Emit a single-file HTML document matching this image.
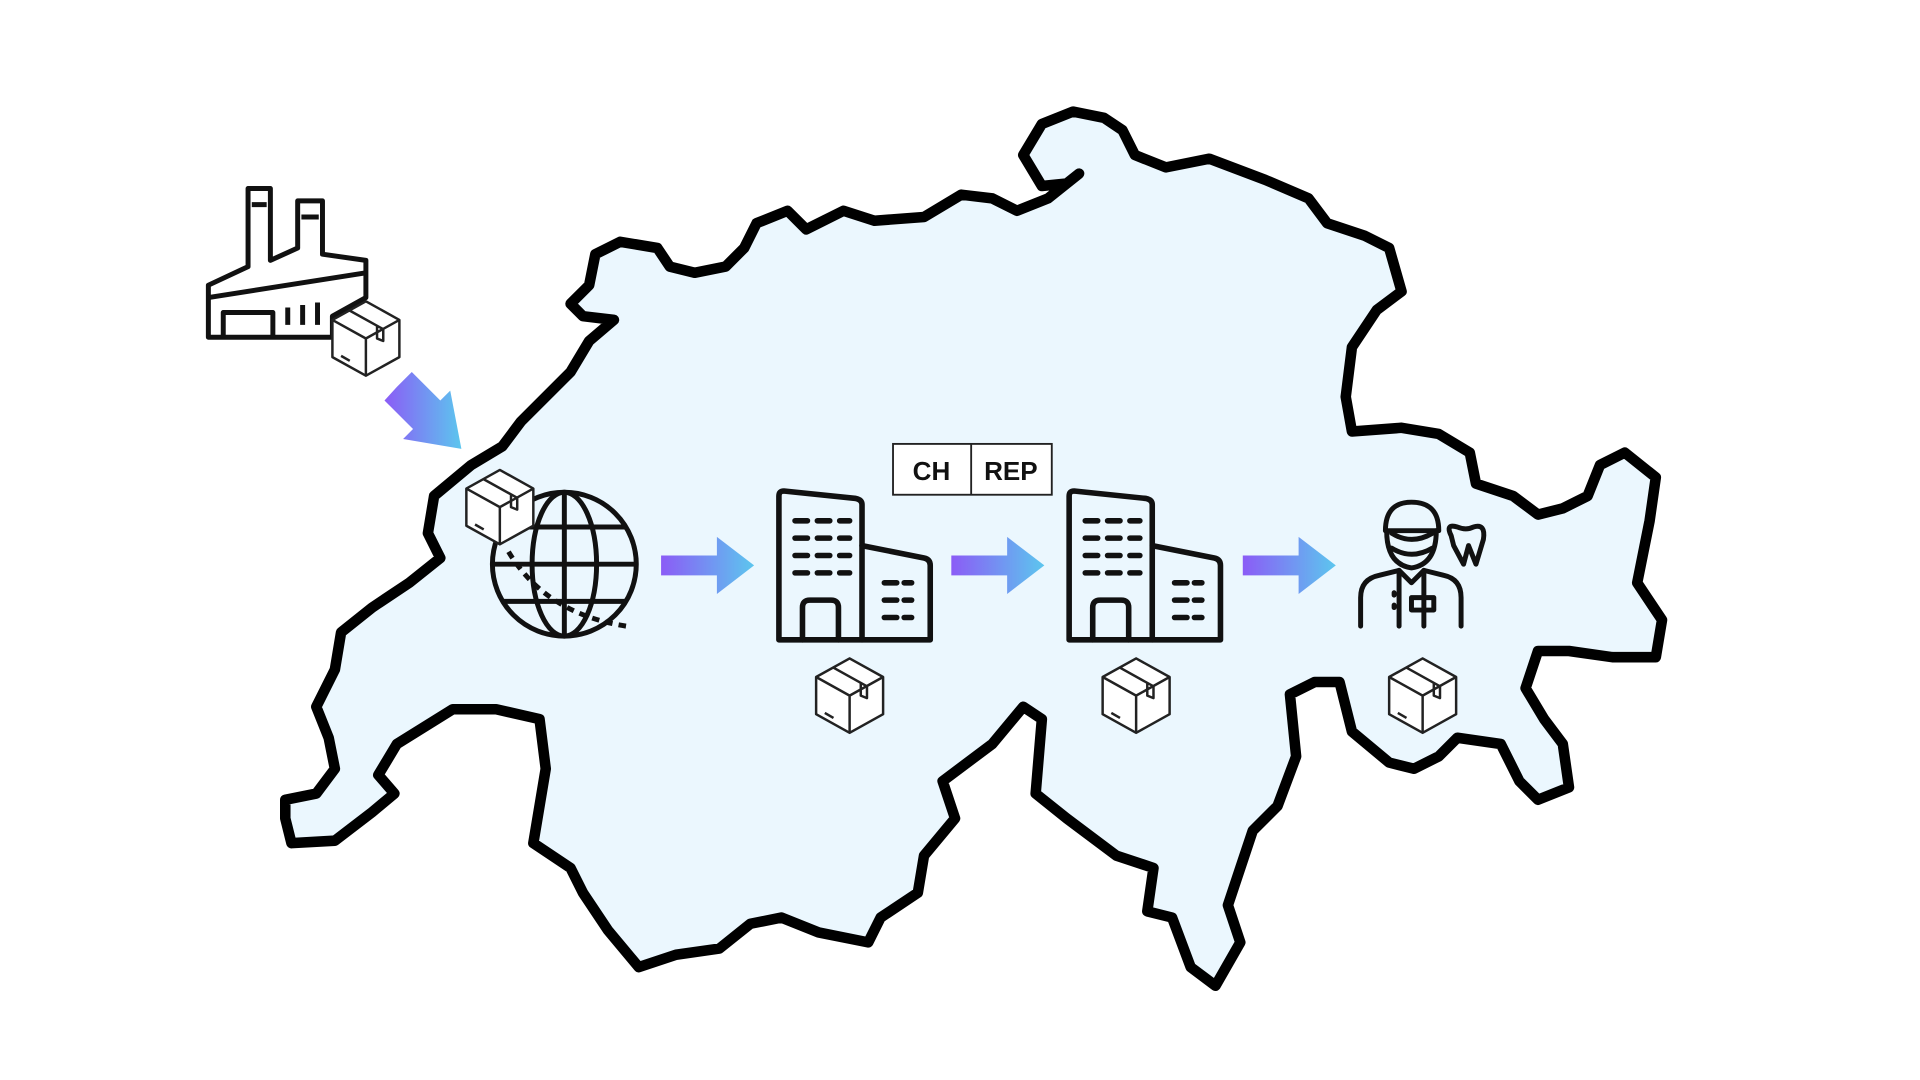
<!DOCTYPE html>
<html><head><meta charset="utf-8"><style>
html,body{margin:0;padding:0;background:#fff;}
svg{display:block;}
</style></head><body>
<svg width="1920" height="1080" viewBox="0 0 1548 871" preserveAspectRatio="none" xmlns="http://www.w3.org/2000/svg">
<defs>
<linearGradient id="g" x1="0" y1="0" x2="1" y2="0">
<stop offset="0" stop-color="#8b5cf6"/><stop offset="1" stop-color="#5cc6ee"/>
</linearGradient>
<symbol id="box" viewBox="-30 -33 60 66" overflow="visible">
<g fill="#fff" stroke="#222" stroke-width="2" stroke-linejoin="round">
<path d="M0,-30 L27,-15 L27,15 L0,30 L-27,15 L-27,-15 Z"/>
<path d="M-27,-15 L0,0 L27,-15 M0,0 L0,30" fill="none"/>
<path d="M-13,-22.5 L14,-7.5 L14,2 L9,0 L9,-10" fill="none"/>
<path d="M-20,14 L-13,18" fill="none"/>
</g>
</symbol>
<symbol id="arrow" viewBox="0 0 75 46" overflow="visible">
<path d="M0,15 L45,15 L45,0 L75,23 L45,46 L45,31 L0,31 Z" fill="url(#g)"/>
</symbol>
<symbol id="bld" viewBox="0 0 130 125" overflow="visible">
<g fill="none" stroke="#111" stroke-width="4.5" stroke-linejoin="round" stroke-linecap="round">
<path d="M3,6 Q3,2 7,2 L65,8 Q70,9 70,13 L70,122 L3,122 Z"/>
<path d="M70,46 L120,56 Q125,57 125,62 L125,122 L70,122"/>
<path d="M22,122 L22,96 Q22,90 28,90 L45,90 Q51,90 51,96 L51,122"/>
<path d="M16,26 H26 M34,26 H44 M52,26 H60 M16,40 H26 M34,40 H44 M52,40 H60 M16,54 H26 M34,54 H44 M52,54 H60 M16,68 H26 M34,68 H44 M52,68 H60"/>
<path d="M88,76 H98 M104,76 H110 M88,90 H98 M104,90 H110 M88,104 H98 M104,104 H110"/>
</g>
</symbol>
</defs>

<path d="M230,660 L235,680 L270,678 L300,655 L318,640 L305,625 L320,600 L365,572 L400,572 L435,580 L440,620 L430,680 L460,700 L470,720 L490,750 L515,780 L545,770 L580,765 L605,745 L630,740 L660,752 L700,760 L710,740 L740,720 L745,690 L770,660 L760,630 L800,600 L825,570 L840,580 L835,640 L860,660 L900,690 L930,700 L925,735 L945,740 L960,780 L980,795 L1000,760 L990,730 L1000,700 L1010,670 L1030,650 L1045,610 L1040,560 L1060,550 L1080,550 L1090,590 L1120,615 L1140,620 L1160,610 L1175,595 L1210,600 L1225,630 L1240,645 L1265,635 L1260,600 L1245,580 L1230,555 L1240,525 L1265,525 L1300,530 L1335,530 L1340,500 L1320,470 L1330,420 L1335,385 L1310,365 L1290,375 L1280,400 L1260,410 L1240,415 L1220,400 L1190,390 L1185,365 L1160,350 L1130,345 L1090,348 L1085,320 L1090,280 L1110,250 L1130,235 L1120,200 L1100,190 L1070,180 L1055,160 L1020,145 L975,128 L940,135 L915,125 L905,105 L890,95 L865,90 L840,100 L825,125 L840,150 L860,148 L870,140 L845,160 L820,170 L800,160 L775,157 L745,175 L705,178 L680,170 L650,185 L635,170 L610,180 L600,200 L585,215 L560,220 L540,215 L530,200 L500,195 L480,205 L475,230 L460,245 L470,255 L495,258 L475,275 L460,300 L420,340 L405,360 L380,375 L350,400 L345,430 L355,450 L330,470 L300,490 L275,510 L270,540 L255,570 L265,595 L270,620 L255,640 L230,645 Z" fill="#ebf7fe" stroke="#000" stroke-width="8.5" stroke-linejoin="round"/>

<g fill="none" stroke="#111" stroke-width="4" stroke-linejoin="round">
<path d="M168,272 L168,230 L200,215 L200,152 L218,152 L218,210 L240,200 L240,162 L260,162 L260,205 L295,210 L295,240 L268,255 L268,272 Z"/>
<path d="M168,240 L295,220 M180,272 L180,252 L220,252 L220,272 M232,262 V248 M244,262 V246 M256,262 V244 M203,165 H215 M243,175 H257"/>
</g>
<use href="#box" x="265" y="240" width="60" height="66"/>
<path d="M320,312 L332,300 L355,323 L363,315 L372,362 L325,354 L333,346 L310,323 Z" fill="url(#g)"/>

<g fill="none" stroke="#111" stroke-width="4">
<circle cx="455" cy="455" r="58"/>
<ellipse cx="455" cy="455" rx="26" ry="58"/>
<path d="M455,397 V513 M397,455 H513 M405,425 H505 M405,485 H505"/>
<path d="M410,445 Q440,495 505,505" stroke-dasharray="6 5"/>
</g>
<use href="#box" x="373" y="376" width="60" height="66"/>

<use href="#arrow" x="533" y="433" width="75" height="46"/>
<use href="#arrow" x="767" y="433" width="75" height="46"/>
<use href="#arrow" x="1002" y="433" width="75" height="46"/>

<use href="#bld" x="625" y="394" width="130" height="125"/>
<use href="#bld" x="859" y="394" width="130" height="125"/>

<rect x="720" y="358" width="128" height="41" fill="#fff" stroke="#222" stroke-width="1.5"/>
<line x1="783" y1="358" x2="783" y2="399" stroke="#222" stroke-width="1.5"/>
<text x="751" y="387" font-family="Liberation Sans, sans-serif" font-weight="bold" font-size="21" text-anchor="middle" fill="#111">CH</text>
<text x="815" y="387" font-family="Liberation Sans, sans-serif" font-weight="bold" font-size="21" text-anchor="middle" fill="#111">REP</text>

<g fill="none" stroke="#111" stroke-width="4" stroke-linejoin="round" stroke-linecap="round">
<path d="M1117,428 Q1117,405 1138,405 Q1160,405 1160,428 Z"/>
<path d="M1118,428 Q1118,455 1138,458 Q1158,455 1158,428"/>
<path d="M1122,430 Q1138,440 1155,430 M1122,442 Q1138,452 1155,442"/>
<path d="M1097,505 L1097,482 Q1097,467 1112,464 L1128,460 L1138,470 L1148,460 L1164,464 Q1178,467 1178,482 L1178,505"/>
<path d="M1128,460 L1128,505 M1148,460 V505 M1138,482 H1156 V492 H1138 Z M1124,478 V480 M1124,488 V490"/>
<path d="M1170,432 Q1165,422 1175,425 Q1182,428 1188,425 Q1198,422 1196,435 L1190,455 L1184,440 L1180,455 L1172,440 Z"/>
</g>

<use href="#box" x="655" y="528" width="60" height="66"/>
<use href="#box" x="886" y="528" width="60" height="66"/>
<use href="#box" x="1117" y="528" width="60" height="66"/>
</svg>
</body></html>
